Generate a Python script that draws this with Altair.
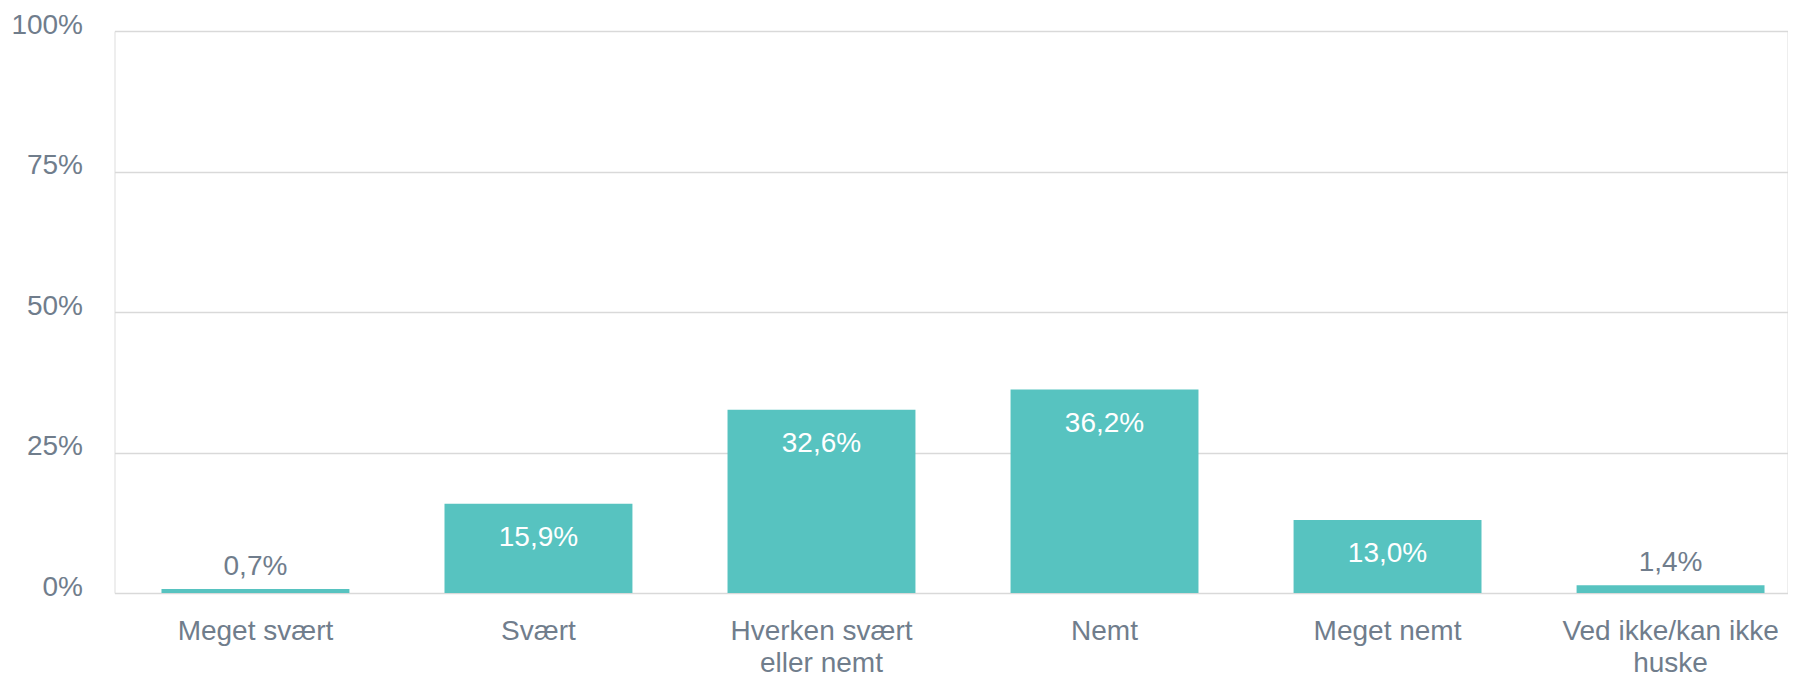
import json
import altair as alt
import pandas as pd

categories = ["Meget svært", "Svært", "Hverken svært eller nemt", "Nemt",
              "Meget nemt", "Ved ikke/kan ikke huske"]
label_lines = [["Meget svært"], ["Svært"], ["Hverken svært", "eller nemt"], ["Nemt"],
               ["Meget nemt"], ["Ved ikke/kan ikke", "huske"]]
values = [0.7, 15.9, 32.6, 36.2, 13.0, 1.4]
y_ticks = [0, 25, 50, 75, 100]

df = pd.DataFrame({"category": categories, "value": values})

# build the multi-line label expression
expr = "datum.value"
for cat, lines in reversed(list(zip(categories, label_lines))):
    expr = f"datum.value === {json.dumps(cat, ensure_ascii=False)} ? {json.dumps(lines, ensure_ascii=False)} : ({expr})"

FONT = "Liberation Sans"
BAR = "#57C3C0"
GRAY = "#707D8C"
FS = 28

xscale = alt.Scale(paddingInner=0.336, paddingOuter=0.166, range=[0, 1697])
x = alt.X("category:N", sort=categories, title=None, scale=xscale,
          axis=alt.Axis(labelExpr=expr, labelAngle=0, labelFont=FONT, labelFontSize=FS,
                        labelColor=GRAY, labelPadding=24, labelLineHeight=32, labelLimit=600,
                        labelOverlap=False, domain=False, ticks=False, grid=False))
y = alt.Y("value:Q", title=None,
          scale=alt.Scale(domain=[0, 100], nice=False),
          axis=alt.Axis(values=y_ticks, labelExpr="datum.value + '%'", labelFont=FONT,
                        labelFontSize=FS, labelColor=GRAY, labelPadding=32, labelOffset=-6,
                        domain=False, ticks=False, gridColor="#D9D9D9", gridWidth=1.5))

base = alt.Chart(df)
bars = base.mark_bar(color=BAR).encode(x=x, y=y)

lbl = "replace(format(datum.value, '.1f'), '.', ',') + '%'"
inside = base.transform_filter("datum.value >= 5").transform_calculate(lbl=lbl).mark_text(
    font=FONT, fontSize=FS, color="white", baseline="alphabetic", dy=42
).encode(x=alt.X("category:N", sort=categories), y="value:Q", text="lbl:N")
outside = base.transform_filter("datum.value < 5").transform_calculate(lbl=lbl).mark_text(
    font=FONT, fontSize=FS, color=GRAY, baseline="alphabetic", dy=-14
).encode(x=alt.X("category:N", sort=categories), y="value:Q", text="lbl:N")

chart = alt.layer(bars, inside, outside).properties(
    width=1673, height=562,
    autosize=alt.AutoSizeParams(type="none"),
    padding={"left": 106.5, "top": 23, "right": 0, "bottom": 90},
).configure_view(stroke=None).configure(background="white")

chart.save("out.html", embed_options={"renderer": "svg", "actions": False})
